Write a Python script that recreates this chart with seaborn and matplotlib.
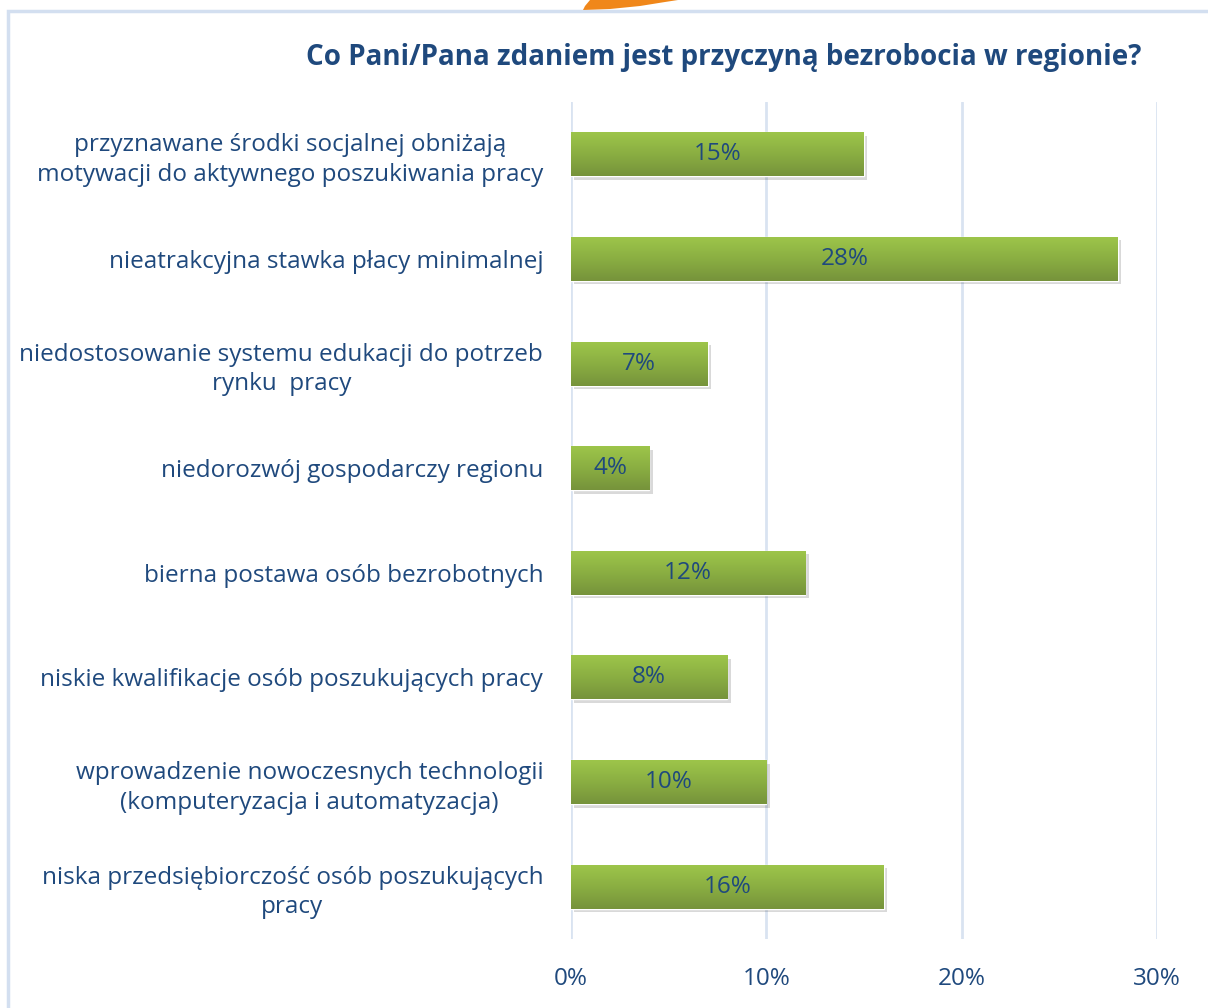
import numpy as np
import pandas as pd
import matplotlib
matplotlib.use("Agg")
import matplotlib.pyplot as plt
import seaborn as sns
from matplotlib.patches import Rectangle, Polygon
from matplotlib import patheffects as pe
from matplotlib.colors import LinearSegmentedColormap

categories = [
    "przyznawane środki socjalnej obniżają\nmotywacji do aktywnego poszukiwania pracy",
    "nieatrakcyjna stawka płacy minimalnej",
    "niedostosowanie systemu edukacji do potrzeb\nrynku  pracy",
    "niedorozwój gospodarczy regionu",
    "bierna postawa osób bezrobotnych",
    "niskie kwalifikacje osób poszukujących pracy",
    "wprowadzenie nowoczesnych technologii\n(komputeryzacja i automatyzacja)",
    "niska przedsiębiorczość osób poszukujących\npracy",
]
values = [15, 28, 7, 4, 12, 8, 10, 16]
xticks = [0, 10, 20, 30]
title = "Co Pani/Pana zdaniem jest przyczyną bezrobocia w regionie?"

TXT = "#1F497D"
GRID = "#D9E3F1"
FS = 17.5

sns.set_theme(style="white")
plt.rcParams['font.family'] = ['Open Sans', 'DejaVu Sans']

W, H = 1208, 1008
fig = plt.figure(figsize=(W / 100, H / 100), dpi=100)
ax = fig.add_axes([571 / W, 1 - 939 / H, (1157 - 571) / W, (939 - 102) / H])

df = pd.DataFrame({"cat": categories, "val": values})
sns.barplot(data=df, x="val", y="cat", orient="h", color="#8DB443",
            width=0.42, ax=ax, zorder=3)

ax.set_xlim(0, 30)
ax.set_ylim(len(categories) - 0.5, -0.5)
ax.set_xticks(xticks)
ax.set_xticklabels([f"{t}%" for t in xticks], color=TXT, fontsize=FS)
ax.tick_params(axis="x", length=0, pad=20)
ax.tick_params(axis="y", length=0, pad=20)
for lbl in ax.get_yticklabels():
    lbl.set_color(TXT)
    lbl.set_fontsize(FS)
    lbl.set_horizontalalignment("right")
    lbl.set_multialignment("center")
    lbl.set_linespacing(1.32)
ax.set_xlabel("")
ax.set_ylabel("")
for s in ax.spines.values():
    s.set_visible(False)
for t in xticks:
    ax.axvline(t, color=GRID, lw=2, zorder=1)

cmap = LinearSegmentedColormap.from_list("g", ["#9DC54A", "#8AAE42", "#76933B"])
grad = np.linspace(0, 1, 100).reshape(-1, 1)
for bar, v in zip(ax.patches, values):
    x0, y0 = bar.get_x(), bar.get_y()
    w, h = bar.get_width(), bar.get_height()
    bar.set_path_effects([pe.SimplePatchShadow(offset=(2.5, -2.5), shadow_rgbFace="#000000", alpha=0.15),
                          pe.Normal()])
    im = ax.imshow(grad, cmap=cmap, aspect="auto", extent=(x0, x0 + w, y0 + h, y0),
                   zorder=4, interpolation="bicubic")
    im.set_clip_path(bar)
    ax.text(x0 + w / 2, y0 + h / 2, f"{v}%", ha="center", va="center",
            color=TXT, fontsize=FS, zorder=5)
ax.set_xlim(0, 30)
ax.set_ylim(len(categories) - 0.5, -0.5)

fig.text(724 / W, 1 - 57 / H, title, ha="center", va="center", color=TXT,
         fontsize=20, fontweight="bold")

# frame
fig.patches.append(Rectangle((8 / W, -0.05), 1.1, 1 - 11 / H + 0.05, transform=fig.transFigure,
                             fill=False, edgecolor="#D3DFF0", lw=2.5))
# orange decoration
pts = [(583, 10), (610, 9), (640, 6), (665, 2), (678, 0), (590, 0), (585, 6)]
fig.patches.append(Polygon([(x / W, 1 - y / H) for x, y in pts], closed=True,
                           transform=fig.transFigure, facecolor="#F0871A", edgecolor="none"))

fig.savefig("out.png", dpi=100)
